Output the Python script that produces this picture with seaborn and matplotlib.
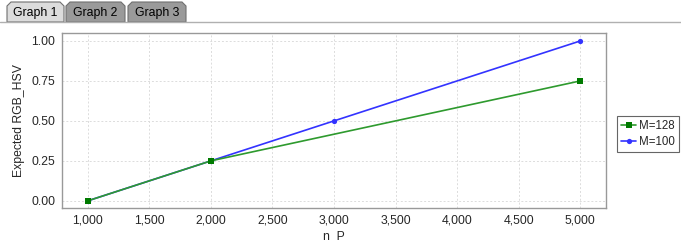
import matplotlib
matplotlib.use("Agg")
import matplotlib.pyplot as plt
import matplotlib.patches as mpatches
import seaborn as sns
import pandas as pd

# Data
n_p_128 = [1000, 2000, 5000]
rgb_hsv_128 = [0.0, 0.25, 0.75]
n_p_100 = [1000, 2000, 3000, 5000]
rgb_hsv_100 = [0.0, 0.25, 0.5, 1.0]
series_names = ["M=128", "M=100"]
x_ticks = [1000, 1500, 2000, 2500, 3000, 3500, 4000, 4500, 5000]
y_ticks = [0.0, 0.25, 0.5, 0.75, 1.0]
tab_labels = ["Graph 1", "Graph 2", "Graph 3"]

sns.set_theme(style="white")
plt.rcParams['font.family'] = ['Liberation Sans', 'DejaVu Sans']

df = pd.concat([
    pd.DataFrame({"n P": n_p_128, "val": rgb_hsv_128, "series": series_names[0]}),
    pd.DataFrame({"n P": n_p_100, "val": rgb_hsv_100, "series": series_names[1]}),
])

fig = plt.figure(figsize=(6.81, 2.44), dpi=100)
fig.patch.set_facecolor("white")

FS = 8.8

# Tabs
W, H = 681, 244
def fx(px): return px / W
def fy(py): return 1 - py / H
fig.add_artist(plt.Line2D([fx(0), fx(681)], [fy(22), fy(22)], color="#b0b0b0", lw=1))
tabs = [(7, 64, "#dcdcdc"), (66, 125, "#9a9a9a"), (128, 186, "#9a9a9a")]
for (x0, x1, col), lab in zip(tabs, tab_labels):
    poly = mpatches.Polygon([(fx(x0), fy(22)), (fx(x0), fy(6)), (fx(x0 + 4), fy(2)),
                             (fx(x1 - 4), fy(2)), (fx(x1), fy(6)), (fx(x1), fy(22))],
                            closed=True, transform=fig.transFigure,
                            facecolor=col, edgecolor="#707070", lw=0.8)
    fig.add_artist(poly)
    fig.text(fx((x0 + x1) / 2), fy(13), lab, ha="center", va="center", fontsize=FS, color="black")

ax = fig.add_axes([fx(62), fy(208), fx(606) - fx(62), fy(33) - fy(208)])

palette = {"M=128": "#2e9a2e", "M=100": "#3333ff"}
sns.lineplot(data=df[df.series == "M=100"], x="n P", y="val", ax=ax, color=palette["M=100"],
             marker="o", markersize=3.8, markeredgewidth=0, lw=1.2, label="M=100")
sns.lineplot(data=df[df.series == "M=128"], x="n P", y="val", ax=ax, color=palette["M=128"],
             marker="s", markersize=4, markerfacecolor="#007a00", markeredgewidth=0, lw=1.2, label="M=128")

ax.set_xlim(790, 5210)
ax.set_ylim(-0.045, 1.05)
ax.set_xticks(x_ticks)
ax.set_xticklabels([f"{v:,}" for v in x_ticks])
ax.set_yticks(y_ticks)
ax.set_yticklabels([f"{v:.2f}" for v in y_ticks])
ax.tick_params(axis="both", labelsize=FS, length=3, width=0.8, color="#808080", direction="out", pad=2)
ax.set_xlabel("n  P", fontsize=FS, labelpad=3)
ax.set_ylabel("Expected RGB_HSV", fontsize=FS, labelpad=4)
ax.grid(True, color="#dcdcdc", linestyle=(0, (2, 2)), lw=0.7)
for s in ax.spines.values():
    s.set_color("#999999")
    s.set_linewidth(1.0)

handles, labels = ax.get_legend_handles_labels()
if ax.get_legend() is not None:
    ax.get_legend().remove()
order = [labels.index("M=128"), labels.index("M=100")]
leg = fig.legend([handles[i] for i in order], [labels[i] for i in order],
                 loc="upper left", bbox_to_anchor=(fx(617), fy(116)), fontsize=8.3,
                 frameon=True, fancybox=False, edgecolor="#404040", handlelength=1.3,
                 handletextpad=0.25, borderpad=0.35, labelspacing=0.35, borderaxespad=0)
leg.get_frame().set_linewidth(0.8)

fig.savefig("out.png", dpi=100)
